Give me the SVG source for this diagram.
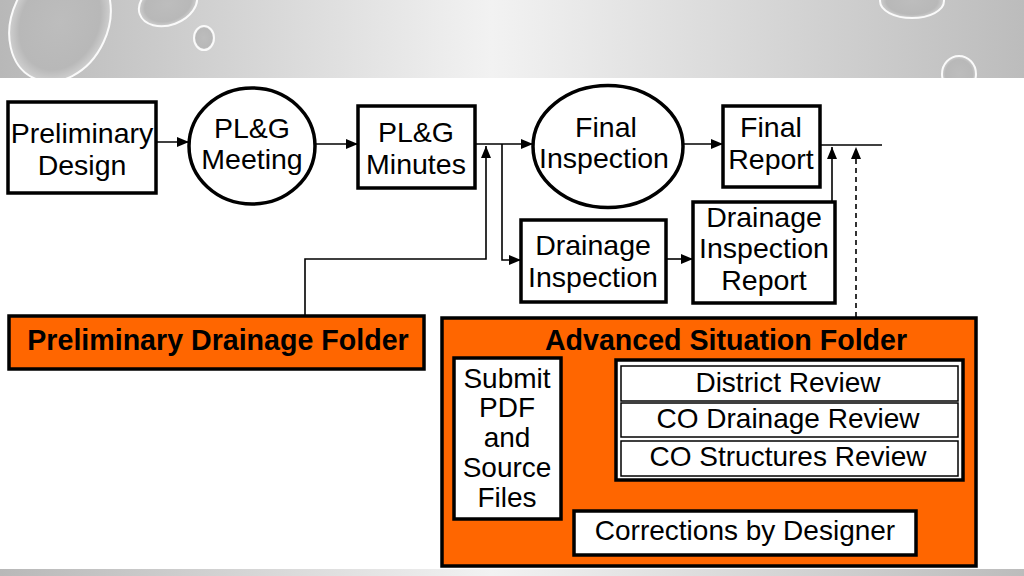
<svg xmlns="http://www.w3.org/2000/svg" width="1024" height="576" viewBox="0 0 1024 576">
<defs>
<linearGradient id="bg" x1="0" y1="0" x2="1" y2="0">
<stop offset="0" stop-color="#b8b8b8"/>
<stop offset="0.48" stop-color="#f2f2f2"/>
<stop offset="1" stop-color="#bcbcbc"/>
</linearGradient>
<radialGradient id="bub" cx="0.5" cy="0.5" r="0.5">
<stop offset="0" stop-color="#bdbdbd"/>
<stop offset="0.8" stop-color="#b8b8b8"/>
<stop offset="1" stop-color="#cfcfcf"/>
</radialGradient>
<clipPath id="bannerClip"><rect x="0" y="0" width="1024" height="78"/></clipPath>
<marker id="ah" viewBox="0 0 12 10" refX="12" refY="5" markerWidth="12" markerHeight="10" markerUnits="userSpaceOnUse" orient="auto">
<path d="M0,0 L12,5 L0,10 Z" fill="#000"/>
</marker>
</defs>
<style>
.node{fill:#fff;stroke:#000;stroke-width:3.5}
.folder{fill:#FF6600;stroke:#000;stroke-width:3.5}
.row{fill:#fff;stroke:#000;stroke-width:1.5}
.t{font-family:"Liberation Sans",Arial,sans-serif;font-size:28.5px;fill:#000;text-anchor:middle}
.s{font-size:28px}
.b{font-weight:bold;font-size:28.6px}
.c{fill:none;stroke:#000;stroke-width:1.6}
.d{stroke-dasharray:5,4}
.bubble{fill:url(#bub);stroke:#fafafa;stroke-width:2}
</style>
<rect x="0" y="0" width="1024" height="576" fill="#fff"/>
<g id="banner">
<g clip-path="url(#bannerClip)">
<rect x="0" y="0" width="1024" height="78" fill="url(#bg)"/>
<ellipse class="bubble" cx="60" cy="22" rx="48" ry="62" transform="rotate(25 60 22)"/>
<ellipse class="bubble" cx="168" cy="4" rx="30" ry="21" transform="rotate(-20 168 4)"/>
<ellipse class="bubble" cx="204" cy="38" rx="10" ry="12"/>
<ellipse class="bubble" cx="912" cy="1" rx="32" ry="17"/>
<ellipse class="bubble" cx="959" cy="74" rx="17" ry="18"/>
</g>
<rect x="0" y="569" width="1024" height="7" fill="url(#bg)"/>
</g>
<g id="connectors">
<path class="c" d="M156,142 H189" marker-end="url(#ah)"/>
<path class="c" d="M315,144 H358" marker-end="url(#ah)"/>
<path class="c" d="M475,144 H533" marker-end="url(#ah)"/>
<path class="c" d="M683,144 H723" marker-end="url(#ah)"/>
<path class="c" d="M820,145 H882"/>
<path class="c" d="M502,144 V260 H521" marker-end="url(#ah)"/>
<path class="c" d="M305,316 V259 H486 V146" marker-end="url(#ah)"/>
<path class="c" d="M666,259 H693" marker-end="url(#ah)"/>
<path class="c" d="M832,202 V147" marker-end="url(#ah)"/>
<path class="c d" d="M856,317 V147" marker-end="url(#ah)"/>
<path class="c" d="M561,413 H617" marker-end="url(#ah)"/>
<path class="c d" d="M949,480 V547 H916" marker-end="url(#ah)"/>
<path class="c d" d="M574,551 H490 V520" marker-end="url(#ah)"/>
</g>
<g id="preliminary-design">
<rect class="node" x="8" y="102" width="148" height="91"/>
<text class="t" x="82" y="143">Preliminary</text>
<text class="t" x="82" y="175">Design</text>
</g>
<g id="plg-meeting">
<ellipse class="node" cx="252" cy="146" rx="63" ry="58"/>
<text class="t" x="252" y="138">PL&amp;G</text>
<text class="t" x="252" y="169">Meeting</text>
</g>
<g id="plg-minutes">
<rect class="node" x="358" y="106" width="117" height="82"/>
<text class="t" x="416" y="142">PL&amp;G</text>
<text class="t" x="416" y="174">Minutes</text>
</g>
<g id="final-inspection">
<ellipse class="node" cx="608" cy="146.5" rx="75" ry="61"/>
<text class="t" x="606" y="137">Final</text>
<text class="t" x="604" y="168">Inspection</text>
</g>
<g id="final-report">
<rect class="node" x="723" y="106" width="97" height="81"/>
<text class="t" x="771" y="137">Final</text>
<text class="t" x="771" y="169">Report</text>
</g>
<g id="drainage-inspection">
<rect class="node" x="521" y="220" width="145" height="82"/>
<text class="t" x="593" y="255">Drainage</text>
<text class="t" x="593" y="287">Inspection</text>
</g>
<g id="drainage-inspection-report">
<rect class="node" x="693" y="202" width="142" height="101"/>
<text class="t" x="764" y="227">Drainage</text>
<text class="t" x="764" y="258">Inspection</text>
<text class="t" x="764" y="290">Report</text>
</g>
<g id="preliminary-drainage-folder">
<rect class="folder" x="9" y="316" width="415" height="53"/>
<text class="t b" x="218" y="350">Preliminary Drainage Folder</text>
</g>
<g id="advanced-situation-folder">
<rect class="folder" x="442" y="318" width="534" height="248"/>
<text class="t b" x="726" y="350">Advanced Situation Folder</text>
</g>
<g id="submit-pdf">
<rect class="node" x="454" y="358" width="107" height="161"/>
<text class="t s" x="507" y="388">Submit</text>
<text class="t s" x="507" y="417">PDF</text>
<text class="t s" x="507" y="447">and</text>
<text class="t s" x="507" y="477">Source</text>
<text class="t s" x="507" y="507">Files</text>
</g>
<g id="reviews">
<rect class="node" x="616" y="360" width="347" height="120"/>
<rect class="row" x="621" y="366" width="337" height="35"/>
<rect class="row" x="621" y="403" width="337" height="34"/>
<rect class="row" x="621" y="441" width="337" height="35"/>
<text class="t s" x="788" y="392">District Review</text>
<text class="t s" x="788" y="428">CO Drainage Review</text>
<text class="t s" x="788" y="466">CO Structures Review</text>
</g>
<g id="corrections">
<rect class="node" x="574" y="511" width="342" height="44"/>
<text class="t s" x="745" y="540">Corrections by Designer</text>
</g>
</svg>
